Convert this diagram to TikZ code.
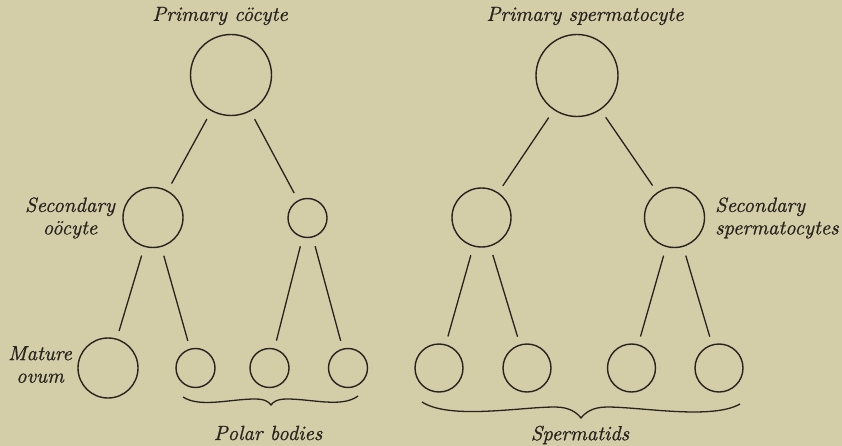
\documentclass[tikz,border=0pt]{standalone}
\usepackage{fontspec}
\newfontface\labfont{lmroman10-italic.otf}[FakeBold=0.8]
\begin{document}
\begin{tikzpicture}[x=1pt,y=-1pt,
  cell/.style={circle,draw=ink,line width=1.4pt,inner sep=0pt},
  link/.style={draw=ink,line width=1.3pt,shorten <=9pt,shorten >=8pt},
  lab/.style={font=\labfont\fontsize{20.5}{22.5}\selectfont,text=ink,inner sep=0pt},
  bracestyle/.style={draw=ink,line width=1.3pt}]
\definecolor{paper}{RGB}{211,206,168}
\definecolor{ink}{RGB}{40,35,30}
\fill[paper] (0,0) rectangle (842,446);
\useasboundingbox (0,0) rectangle (842,446);
% left: oogenesis
\node[cell,minimum size=81pt] (po) at (231,75) {};
\node[cell,minimum size=60pt] (so) at (153,217.5) {};
\node[cell,minimum size=39pt] (pb1) at (307.5,218) {};
\node[cell,minimum size=60pt] (ov) at (108,368) {};
\node[cell,minimum size=39pt] (pb2) at (195.5,368) {};
\node[cell,minimum size=39pt] (pb3) at (269.5,368) {};
\node[cell,minimum size=39pt] (pb4) at (348,368) {};
\draw[link] (po) -- (so);
\draw[link] (po) -- (pb1);
\draw[link] (so) -- (ov);
\draw[link] (so) -- (pb2);
\draw[link] (pb1) -- (pb3);
\draw[link] (pb1) -- (pb4);
% right: spermatogenesis
\node[cell,minimum size=82pt] (ps) at (577,75.5) {};
\node[cell,minimum size=59pt] (ss1) at (481.5,217.5) {};
\node[cell,minimum size=60pt] (ss2) at (674.5,217.5) {};
\node[cell,minimum size=48pt] (st1) at (439,368) {};
\node[cell,minimum size=48pt] (st2) at (527,368) {};
\node[cell,minimum size=48pt] (st3) at (631.5,368) {};
\node[cell,minimum size=48pt] (st4) at (719,368) {};
\draw[link] (ps) -- (ss1);
\draw[link] (ps) -- (ss2);
\draw[link] (ss1) -- (st1);
\draw[link] (ss1) -- (st2);
\draw[link] (ss2) -- (st3);
\draw[link] (ss2) -- (st4);
% braces
\draw[bracestyle] (183,397) .. controls (200,408) and (230,399) .. (255,399)
  .. controls (265,399) and (269,402) .. (271,405)
  .. controls (273,402) and (277,399) .. (287,399)
  .. controls (312,399) and (342,408) .. (358,396);
\draw[bracestyle] (422,402) .. controls (450,420) and (520,407) .. (555,407)
  .. controls (570,407) and (577,413) .. (581,418)
  .. controls (585,413) and (592,407) .. (607,407)
  .. controls (642,407) and (712,420) .. (740,404);
% labels
\node[lab] (lpo) at (220,16) {Primary cöcyte};
\node[lab] (lps) at (585,16) {Primary spermatocyte};
\node[lab,align=center] (lso) at (70,218) {Secondary\\oöcyte};
\node[lab,align=center] (lov) at (40,364.5) {Mature\\ovum};
\node[lab,align=left,anchor=west] (lss) at (715,218) {Secondary\\spermatocytes};
\node[lab] (lpb) at (268,433) {Polar bodies};
\node[lab] (lst) at (580,435) {Spermatids};
\end{tikzpicture}
\end{document}
